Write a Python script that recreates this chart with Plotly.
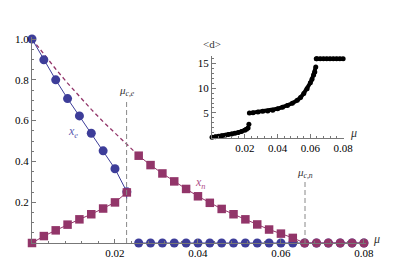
import plotly.graph_objects as go

# ---- main panel data ----
mu = [0.0, 0.002857, 0.005714, 0.008571, 0.011429, 0.014286, 0.017143, 0.02, 0.022857,
      0.025714, 0.028571, 0.031429, 0.034286, 0.037143, 0.04, 0.042857, 0.045714,
      0.048571, 0.051429, 0.054286, 0.057143, 0.06, 0.062857, 0.065714, 0.068571,
      0.071429, 0.074286, 0.077143, 0.08]
x_e = [1.0, 0.898, 0.80, 0.708, 0.623, 0.538, 0.452, 0.364, 0.251,
       0, 0, 0, 0, 0, 0, 0, 0, 0, 0, 0, 0, 0, 0, 0, 0, 0, 0, 0, 0]
x_n = [0.0, 0.034, 0.062, 0.090, 0.116, 0.141, 0.169, 0.199, 0.248,
       0.428, 0.382, 0.341, 0.302, 0.265, 0.229, 0.197, 0.167, 0.141, 0.116,
       0.091, 0.066, 0.046, 0.025, 0, 0, 0, 0, 0, 0]
# x_e curve tail down to the critical point
xe_tail_mu = [0.02285, 0.0228]
xe_tail_val = [0.235, 0.215]
# metastable continuation of x_n (dashed)
xn_dash_val = [1.0, 0.925, 0.853, 0.784, 0.718, 0.655, 0.595, 0.538, 0.483, 0.428]
mu_c = [0.0228, 0.0658]
mu_c_top = [0.70, 0.30]
mu_c_labels = ["<i>μ<sub>c,e</sub></i>", "<i>μ<sub>c,n</sub></i>"]
mu_c_label_y = [0.70, 0.30]
y_ticks = [0.2, 0.4, 0.6, 0.8, 1.0]
y_ticktext = ["0.2", "0.4", "0.6", "0.8", "1.0"]
x_ticks = [0.02, 0.04, 0.06, 0.08]
x_ticktext = ["0.02", "0.04", "0.06", "0.08"]

# ---- inset data: <d> vs mu ----
ins_mu1 = [0.0, 0.002, 0.004, 0.006, 0.008, 0.010, 0.012, 0.014, 0.016, 0.018, 0.020, 0.021, 0.022]
ins_d1 = [0.05, 0.15, 0.25, 0.36, 0.48, 0.60, 0.73, 0.87, 1.03, 1.22, 1.48, 1.68, 1.95]
ins_mu_single = [0.0225]
ins_d_single = [2.7]
ins_mu2 = [0.0228, 0.025, 0.028, 0.031, 0.034, 0.037, 0.040, 0.043, 0.046, 0.049,
           0.052, 0.054, 0.056, 0.058, 0.060, 0.061, 0.062, 0.0627, 0.0633]
ins_d2 = [4.95, 5.05, 5.2, 5.35, 5.4, 5.55, 5.85, 6.15, 6.5, 6.95,
          7.55, 8.1, 8.95, 9.9, 11.1, 11.8, 12.7, 13.3, 14.3]
ins_mu3 = [0.0636, 0.064, 0.066, 0.068, 0.070, 0.072, 0.074, 0.076, 0.078, 0.080]
ins_d3 = [16.0, 16.0, 16.0, 16.0, 16.0, 16.0, 16.0, 16.0, 16.0, 16.0]

BLUE = "#3d3d99"
PURPLE = "#923569"
AX = "#777777"
FONT = "'Liberation Serif', 'Times New Roman', Times, serif"

fig = go.Figure()

# dashed continuation of x_n
fig.add_trace(go.Scatter(x=mu[:10], y=xn_dash_val, mode="lines",
                         line=dict(color=PURPLE, width=1.3, dash="4px,3px"),
                         hoverinfo="skip", cliponaxis=False))
# x_e line + markers
fig.add_trace(go.Scatter(x=mu[:9] + xe_tail_mu, y=x_e[:9] + xe_tail_val, mode="lines",
                         line=dict(color=BLUE, width=1), cliponaxis=False))
fig.add_trace(go.Scatter(x=mu[9:], y=x_e[9:], mode="lines",
                         line=dict(color=BLUE, width=1), cliponaxis=False))
fig.add_trace(go.Scatter(x=mu, y=x_e, mode="markers",
                         marker=dict(color=BLUE, size=9, symbol="circle", line=dict(width=0)),
                         cliponaxis=False))
# x_n lines + markers
fig.add_trace(go.Scatter(x=mu[:9], y=x_n[:9], mode="lines",
                         line=dict(color=PURPLE, width=1), cliponaxis=False))
fig.add_trace(go.Scatter(x=mu[9:], y=x_n[9:], mode="lines",
                         line=dict(color=PURPLE, width=1), cliponaxis=False))
symbols = ["square"] * 23 + ["circle"] * 6
sizes = [8.5] * 23 + [9] * 6
fig.add_trace(go.Scatter(x=mu, y=x_n, mode="markers",
                         marker=dict(color=PURPLE, size=sizes, symbol=symbols, opacity=1,
                                     line=dict(width=0)),
                         cliponaxis=False))

# critical lines
for xc, yt, lab, ly in zip(mu_c, mu_c_top, mu_c_labels, mu_c_label_y):
    fig.add_shape(type="line", x0=xc, x1=xc, y0=0, y1=yt, xref="x", yref="y",
                  line=dict(color="#888888", width=1, dash="5px,3px"))
    fig.add_annotation(x=xc, y=ly, xref="x", yref="y", text=lab, showarrow=False,
                       font=dict(family=FONT, size=11, color="#333333"),
                       xanchor="center", yanchor="bottom")

fig.add_annotation(x=0.0098, y=0.545, xref="x", yref="y", text="<i>x<sub>e</sub></i>",
                   showarrow=False, font=dict(family=FONT, size=12, color="#5a5ab0"))
fig.add_annotation(x=0.0407, y=0.295, xref="x", yref="y", text="<i>x<sub>n</sub></i>",
                   showarrow=False, font=dict(family=FONT, size=12, color="#b0508a"))
fig.add_annotation(x=1.048, y=0.0, xref="paper", yref="y", text="<i>μ</i>",
                   showarrow=False, font=dict(family=FONT, size=12, color="#333333"),
                   yanchor="bottom", yshift=-5)

# inset traces
for xs, ys in [(ins_mu1, ins_d1), (ins_mu2, ins_d2), (ins_mu3, ins_d3)]:
    fig.add_trace(go.Scatter(x=xs, y=ys, mode="lines+markers", xaxis="x2", yaxis="y2",
                             line=dict(color="black", width=4),
                             marker=dict(color="black", size=5), cliponaxis=False))
fig.add_trace(go.Scatter(x=ins_mu_single, y=ins_d_single, mode="markers", xaxis="x2", yaxis="y2",
                         marker=dict(color="black", size=5), cliponaxis=False))

fig.add_annotation(x=0.0, y=16.5, xref="x2", yref="y2", text="&lt;d&gt;", showarrow=False,
                   font=dict(family=FONT, size=11, color="#333333"),
                   xanchor="center", yanchor="bottom", yshift=4)
fig.add_annotation(x=0.979, y=0.0, xref="paper", yref="y2", text="<i>μ</i>", showarrow=False,
                   font=dict(family=FONT, size=12, color="#333333"),
                   yanchor="bottom", yshift=-4)

axis_common = dict(showgrid=False, zeroline=False, showline=True, linecolor=AX, linewidth=1,
                   automargin=False,
                   ticks="inside", tickcolor=AX, tickfont=dict(family=FONT, size=11, color="black"))

fig.update_layout(
    width=399, height=274,
    margin=dict(l=32, r=33, t=37, b=31, autoexpand=False),
    paper_bgcolor="white", plot_bgcolor="white",
    showlegend=False,
    font=dict(family=FONT),
    xaxis=dict(range=[0, 0.0805], tickvals=x_ticks, ticktext=x_ticktext, ticklen=4,
               minor=dict(ticks="inside", ticklen=2, dtick=0.004, tick0=0, tickcolor=AX),
               **axis_common),
    yaxis=dict(range=[0, 1.01], tickvals=y_ticks, ticktext=y_ticktext, ticklen=4,
               minor=dict(ticks="inside", ticklen=2, dtick=0.05, tick0=0, tickcolor=AX),
               **axis_common),
    xaxis2=dict(domain=[0.539, 0.934], anchor="y2", range=[0, 0.0805],
                tickvals=x_ticks, ticktext=x_ticktext, ticklen=4,
                minor=dict(ticks="inside", ticklen=2, dtick=0.004, tick0=0, tickcolor=AX),
                **axis_common),
    yaxis2=dict(domain=[0.512, 0.907], anchor="x2", range=[0, 16.5],
                tickvals=[5, 10, 15], ticktext=["5", "10", "15"], ticklen=4,
                minor=dict(ticks="inside", ticklen=2, dtick=1, tick0=0, tickcolor=AX),
                **axis_common),
)

fig.write_html("out.html", config={"displayModeBar": False},
               post_script="document.body.style.margin='0px';")
